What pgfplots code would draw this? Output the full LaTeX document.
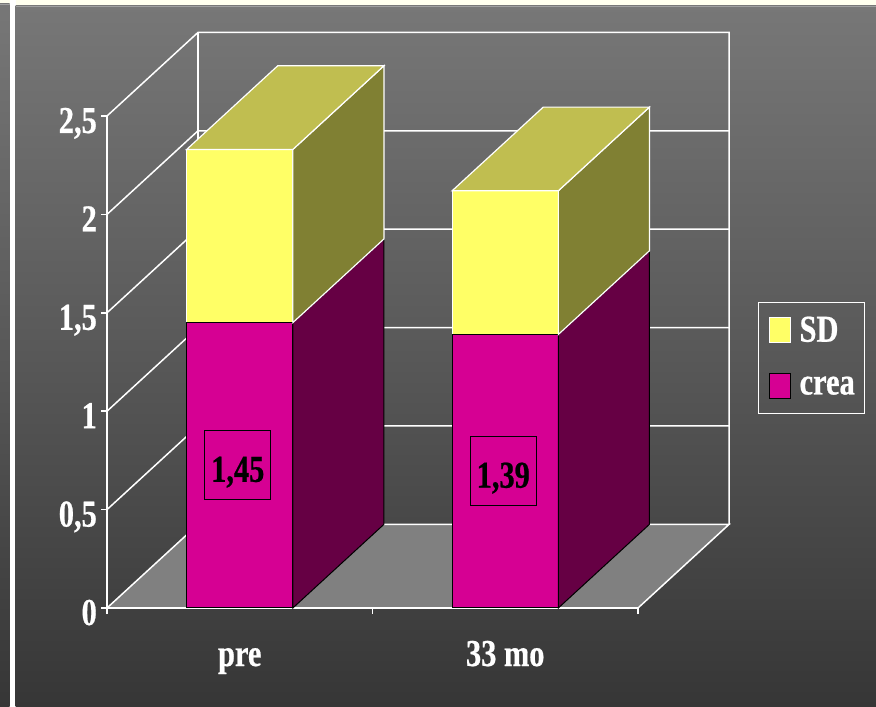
\documentclass[border=0pt]{standalone}
\usepackage{pgfplots}
\pgfplotsset{compat=1.18}
\usepackage{pgfplotstable}
\usepackage{fontspec}
\setmainfont{Liberation Serif}[FakeStretch=0.8, BoldFeatures={FakeBold=0.6}]

\definecolor{creafront}{RGB}{214,0,147}
\definecolor{creaside}{RGB}{102,0,68}
\definecolor{sdfront}{RGB}{255,255,102}
\definecolor{sdtop}{RGB}{192,190,80}
\definecolor{sdside}{RGB}{128,128,51}
\definecolor{floorgray}{RGB}{128,128,128}
\definecolor{bgtop}{RGB}{119,119,119}
\definecolor{bgmid}{RGB}{88,88,88}
\definecolor{bgbot}{RGB}{54,54,54}
\definecolor{cream}{RGB}{255,255,238}

\pgfdeclareverticalshading{panel}{100bp}{%
  color(0bp)=(bgbot); color(25bp)=(bgbot); color(50bp)=(bgmid);
  color(75bp)=(bgtop); color(100bp)=(bgtop)}

\newcommand\chartfont{\bfseries\fontsize{38bp}{40bp}\selectfont}

\pgfplotsset{sqlegend/.style={legend image code/.code={%
  \draw[##1, line width=1bp] (0bp,-12.5bp) rectangle (21bp,12.5bp);}}}

% mean creatinine and its SD
\pgfplotstableread{
pos crea SD
0   1.45 0.88
1   1.39 0.73
}\creatable

% oblique depth of the 3-D box, in axis units
\def\dx{0.343}
\def\dz{0.425}
\def\hw{0.2}
\pgfmathsetmacro\bL{-0.5+\dx}
\pgfmathsetmacro\bR{1.5+\dx}
\pgfmathsetmacro\topz{2.5+\dz}

\tikzset{wall/.style={draw=white, line width=1.5bp}}

% left-wall diagonal plus back-wall gridline at height #1
\newcommand\gridline[1]{%
  \pgfmathsetmacro\zz{#1+\dz}%
  \edef\tmp{\noexpand\addplot[wall, forget plot] coordinates {(-0.5,#1) (\bL,\zz) (\bR,\zz)};}\tmp}

% side and top faces of bar in row #1
\newcommand\barfaces[1]{%
  \pgfplotstablegetelem{#1}{pos}\of\creatable \let\cx\pgfplotsretval
  \pgfplotstablegetelem{#1}{crea}\of\creatable \let\cv\pgfplotsretval
  \pgfplotstablegetelem{#1}{SD}\of\creatable \let\sv\pgfplotsretval
  \pgfmathsetmacro\xa{\cx-\hw}%
  \pgfmathsetmacro\xb{\cx+\hw}%
  \pgfmathsetmacro\xc{\cx+\hw+\dx}%
  \pgfmathsetmacro\xd{\cx-\hw+\dx}%
  \pgfmathsetmacro\tv{\cv+\sv}%
  \pgfmathsetmacro\cvb{\cv+\dz}%
  \pgfmathsetmacro\tvb{\tv+\dz}%
  \edef\tmp{%
    \noexpand\addplot[fill=creaside, draw=black, line width=1bp, forget plot]
      coordinates {(\xb,0) (\xc,\dz) (\xc,\cvb) (\xb,\cv)} -- cycle;
    \noexpand\addplot[fill=sdside, draw=white, line width=1.2bp, forget plot]
      coordinates {(\xb,\cv) (\xc,\cvb) (\xc,\tvb) (\xb,\tv)} -- cycle;
    \noexpand\addplot[fill=sdtop, draw=white, line width=1.2bp, forget plot]
      coordinates {(\xa,\tv) (\xb,\tv) (\xc,\tvb) (\xd,\tvb)} -- cycle;
  }\tmp}

\begin{document}
\begin{tikzpicture}
\useasboundingbox (0,0) rectangle (876bp,707bp);
% backdrop
\fill[cream] (0,0) rectangle (876bp,707bp);
\shade[shading=panel] (0,0) rectangle (9.5bp,703bp);
\fill[white] (9.5bp,0) rectangle (15.5bp,707bp);
\shade[shading=panel] (15.5bp,0) rectangle (876bp,701bp);
\draw[gray!75, line width=0.8bp] (15.5bp,701bp) -- (876bp,701bp);
\draw[gray!75, line width=0.8bp] (0,703bp) -- (9.5bp,703bp);

\begin{axis}[
  at={(107bp,99bp)}, anchor=south west,
  scale only axis, width=531bp, height=492bp,
  xmin=-0.5, xmax=1.5, ymin=0, ymax=2.5,
  clip=false,
  axis lines=left,
  axis line style={white, line width=1.5bp, -},
  tick align=outside, major tick length=6bp,
  tick style={white, line width=1.5bp},
  ytick={0,0.5,1,1.5,2,2.5},
  xtick={-0.5,0.5,1.5}, xticklabels={},
  extra x ticks={0,1}, extra x tick labels={pre,33 mo},
  extra x tick style={major tick length=0pt},
  ticklabel style={font=\chartfont, text=white},
  yticklabel style={anchor=base east, inner sep=0pt, xshift=-4bp, yshift=-17bp},
  xticklabel style={anchor=base, inner sep=0pt, yshift=-58bp},
  legend style={at={(1.226,0.622)}, anchor=north west, draw=white,
    line width=1.2bp, fill=none, text=white, font=\chartfont,
    inner xsep=10bp, inner ysep=14bp, row sep=30bp, column sep=9bp,
    nodes={inner sep=0pt}},
  legend cell align=left,
  /pgf/number format/use comma,
  /pgf/number format/assume math mode=true,
]
% floor
\addplot[wall, fill=floorgray, forget plot]
  coordinates {(-0.5,0) (1.5,0) (\bR,\dz) (\bL,\dz)} -- cycle;
% walls and gridlines
\gridline{0.5}
\gridline{1}
\gridline{1.5}
\gridline{2}
\addplot[wall, forget plot]
  coordinates {(-0.5,2.5) (\bL,\topz) (\bR,\topz) (\bR,\dz)};
\addplot[wall, forget plot]
  coordinates {(\bL,\dz) (\bL,\topz)};

% front faces
\addplot[ybar, bar width=0.4, bar shift=0pt, fill=sdfront, draw=white,
  line width=1.2bp, sqlegend]
  table[x=pos, y expr=\thisrow{crea}+\thisrow{SD}] \creatable;
\addlegendentry{SD}
\addplot[ybar, bar width=0.4, bar shift=0pt, fill=creafront, draw=black,
  line width=1bp, sqlegend]
  table[x=pos, y=crea] \creatable;
\addlegendentry{crea}

% side and top faces
\barfaces{0}
\barfaces{1}

% value labels in the middle of the crea segment
\addplot[draw=none, mark=none, forget plot,
  nodes near coords, point meta=explicit, nodes near coords align={center},
  every node near coord/.append style={font=\chartfont, text=black, draw=black,
    line width=1bp, inner xsep=6.5bp, inner ysep=0pt, text height=51bp,
    text depth=18bp, anchor=center, xshift=-2bp}]
  table[x=pos, y expr=\thisrow{crea}/2, meta=crea] \creatable;
\end{axis}
\end{tikzpicture}
\end{document}
